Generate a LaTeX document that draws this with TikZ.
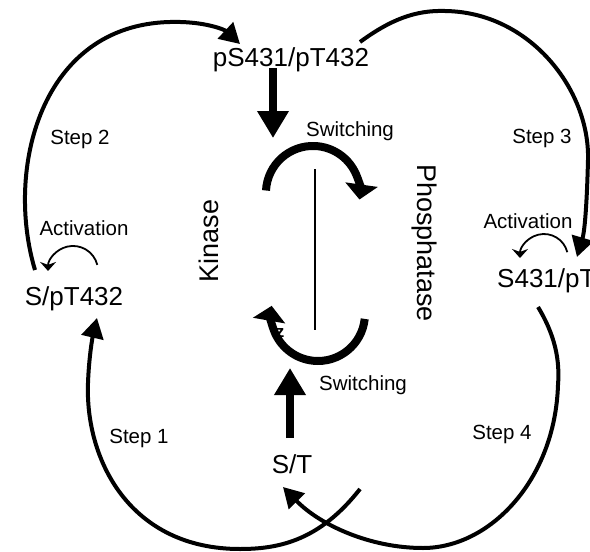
\documentclass[tikz,border=0pt]{standalone}
\usepackage{fontspec}
\setmainfont{Liberation Sans}
\usetikzlibrary{arrows.meta}
\begin{document}
\begin{tikzpicture}[x=1pt,y=-1pt,
  big/.style={line width=4pt, -{Triangle[width=22pt,length=20pt]}},
  boldarrow/.style={line width=8pt, -{Triangle[width=30pt,length=27pt]}},
  swarc/.style={line width=8pt, -{Triangle[width=32pt,length=15pt]}},
  actarc/.style={line width=1.8pt, -{Stealth[width=16pt,length=9pt]}},
  thinline/.style={line width=2.5pt},
  lbl/.style={font=\fontsize{20.5}{24}\selectfont, anchor=base, inner sep=0pt},
  mainlbl/.style={font=\fontsize{26}{30}\selectfont, anchor=base, inner sep=0pt},
  rotlbl/.style={font=\fontsize{27}{32}\selectfont, anchor=base, inner sep=0pt}]
\useasboundingbox (0,0) rectangle (590,552);
\clip (0,0) rectangle (590,552);
\fill[white] (0,0) rectangle (590,552);

% labels
\node[mainlbl] (top) at (291,66) {pS431/pT432};
\node[mainlbl] (left) at (74,305) {S/pT432};
\node[mainlbl, anchor=base west] (right) at (497,287) {S431/pT};
\node[mainlbl] (bottom) at (292,473) {S/T};
\node[rotlbl, rotate=90] (kin) at (218,241) {Kinase};
\node[rotlbl, rotate=-90] (pho) at (417,243) {Phosphatase};
\node[lbl] (sw1) at (350,136) {Switching};
\node[lbl] (sw2) at (363,390) {Switching};
\node[lbl] (st1) at (139,443) {Step 1};
\node[lbl] (st2) at (80,144) {Step 2};
\node[lbl] (st3) at (542,143) {Step 3};
\node[lbl] (st4) at (502,439) {Step 4};
\node[lbl] (act1) at (84,235) {Activation};
\node[lbl] (act2) at (528,228) {Activation};

% connector end points
\coordinate (s2a) at (35,270);
\coordinate (s2b) at (240,44);
\coordinate (s3a) at (360,42);
\coordinate (s3b) at (577,257);
\coordinate (s1a) at (360,489);
\coordinate (s1b) at (97,318);
\coordinate (s4a) at (538,307);
\coordinate (s4b) at (283,487);
\coordinate (da) at (273,68);
\coordinate (db) at (273,138);
\coordinate (ua) at (290,438);
\coordinate (ub) at (290,368);
\coordinate (swu) at (266,190.5);
\coordinate (swl) at (364.7,318.9);
\coordinate (acl) at (97.3,264.9);
\coordinate (acr) at (567.3,252.2);
\coordinate (la) at (315,169);
\coordinate (lb) at (315,330);

% big step curves
\draw[big] (s2a) .. controls (5,170) and (40,25) .. (170,22)
  .. controls (205,21) and (225,30) .. (s2b);
\draw[big] (s3a) .. controls (390,20) and (415,10) .. (445,11)
  .. controls (530,12) and (590,90) .. (588,160)
  .. controls (587,200) and (585,230) .. (s3b);
\draw[big] (s1a) .. controls (320,540) and (280,549) .. (240,549)
  .. controls (130,549) and (85,460) .. (88,383)
  .. controls (89,355) and (93,335) .. (s1b);
\draw[big] (s4a) .. controls (555,335) and (560,360) .. (558,385)
  .. controls (555,480) and (490,548) .. (423,548)
  .. controls (370,548) and (320,525) .. (s4b);

% bold vertical arrows
\draw[boldarrow] (da) -- (db);
\draw[boldarrow] (ua) -- (ub);

% switching arcs
\draw[swarc] (swu) arc[start angle=183, end angle=368, radius=47];
\draw[swarc] (swl) arc[start angle=6, end angle=190, radius=47];

% thin line
\draw[thinline] (la) -- (lb);

% activation arcs
\draw[actarc] (acl) arc[start angle=-14, end angle=-180, radius=25];
\draw[actarc] (acr) arc[start angle=-14, end angle=-180, radius=24];

% small glyph printed over the lower switching arc
\node[font=\bfseries\fontsize{17}{20}\selectfont, anchor=base, inner sep=0pt] (zz) at (280,337) {z};
\end{tikzpicture}
\end{document}
